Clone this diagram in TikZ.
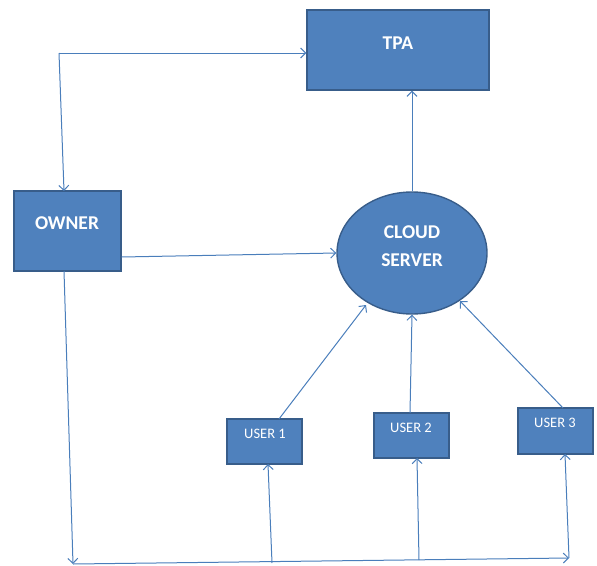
\documentclass[tikz,border=0pt]{standalone}
\usepackage{fontspec}
\setmainfont{Carlito}
\usetikzlibrary{arrows.meta,shapes.geometric}
\definecolor{boxfill}{HTML}{4F81BD}
\definecolor{boxline}{HTML}{385D8A}
\definecolor{conn}{HTML}{4A7EBB}
\begin{document}
\begin{tikzpicture}[x=1pt,y=-1pt,
  box/.style={draw=boxline,line width=1.4pt,fill=boxfill,rectangle,inner sep=0pt},
  oval/.style={draw=boxline,line width=1.4pt,fill=boxfill,ellipse,inner sep=0pt,minimum width=150pt,minimum height=122pt},
  bigtxt/.style={text=white,font=\fontsize{19.5}{23}\selectfont\bfseries,align=center,inner sep=0pt},
  smalltxt/.style={text=white,font=\fontsize{14.5}{17}\selectfont,inner sep=0pt},
  conn/.style={draw=conn,line width=1pt},
  arr/.style={conn,-{Straight Barb[length=5pt,width=10pt,line width=1pt]}}]
\useasboundingbox (0,0) rectangle (597,565);
% boxes
\node[box,minimum width=182pt,minimum height=80pt] (tpa) at (398,50) {};
\node[bigtxt] (tpat) at (398,43) {TPA};
\node[box,minimum width=107pt,minimum height=80pt] (owner) at (67.5,231) {};
\node[bigtxt] (ownert) at (67,223) {OWNER};
\node[oval] (cloud) at (412,253) {};
\node[bigtxt] (cloudt1) at (412,232) {CLOUD};
\node[bigtxt] (cloudt2) at (412,260) {SERVER};
\node[box,minimum width=75pt,minimum height=45pt] (u1) at (264.5,441.5) {};
\node[smalltxt] (u1t) at (265,434) {USER 1};
\node[box,minimum width=75pt,minimum height=45pt] (u2) at (411.5,435.5) {};
\node[smalltxt] (u2t) at (411,428) {USER 2};
\node[box,minimum width=75pt,minimum height=46pt] (u3) at (555.5,431) {};
\node[smalltxt] (u3t) at (555,423) {USER 3};
% junction coordinates
\coordinate (c1) at (59,53);
\coordinate (obot) at (64,271);
\coordinate (bl) at (73,564);
\coordinate (br) at (569,558);
\coordinate (b1) at (272,563);
\coordinate (b2) at (419,560);
\coordinate (b3) at (569,558);
% connectors
\draw[arr] (c1) -- (tpa.west |- c1);
\draw[arr] (c1) -- (64,191);
\draw[arr] (cloud.north) -- (tpa.south -| cloud.north);
\draw[arr] (owner.east |- 0,257) -- (cloud.west);
\draw[arr] (obot) -- (bl);
\draw[arr] (bl) -- (br);
\draw[arr] (b1) -- (268,464);
\draw[arr] (b2) -- (417,458);
\draw[arr] (b3) -- (565,454);
\draw[arr] (279,419) -- (366,305);
\draw[arr] (410,413) -- (cloud.south);
\draw[arr] (563,408) -- (460,301);
\end{tikzpicture}
\end{document}
